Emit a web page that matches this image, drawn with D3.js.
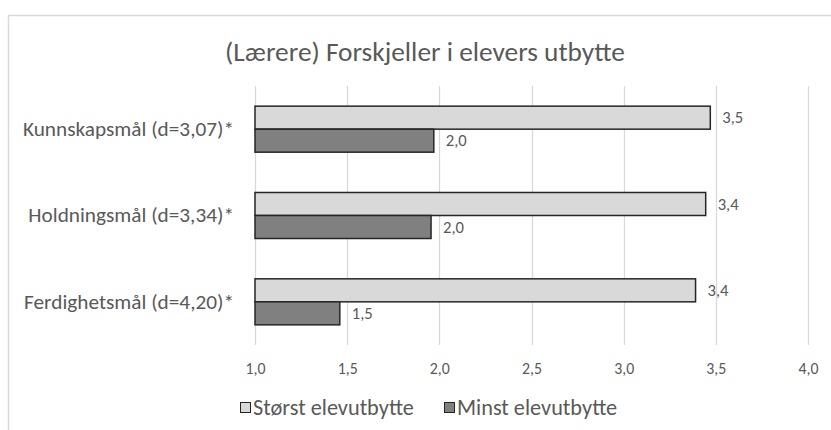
<!DOCTYPE html>
<html><head><meta charset="utf-8">
<script src="https://cdn.jsdelivr.net/npm/d3@7"></script>
<style>
body{margin:0;background:#fff;}
svg text{font-family:Carlito,"Open Sans",sans-serif;fill:#595959;}
</style></head>
<body><svg id="c" width="831" height="430"></svg>
<script>
const title = "(Lærere) Forskjeller i elevers utbytte";
const categories = ["Kunnskapsmål (d=3,07)*", "Holdningsmål (d=3,34)*", "Ferdighetsmål (d=4,20)*"];
const seriesNames = ["Størst elevutbytte", "Minst elevutbytte"];
const storst = [3.47, 3.445, 3.39];
const minst = [1.97, 1.955, 1.46];
const ticks = [1.0, 1.5, 2.0, 2.5, 3.0, 3.5, 4.0];
const colors = ["#d9d9d9", "#808080"];

const svg = d3.select("#c");
svg.append("rect").attr("x",8.5).attr("y",15.5).attr("width",840).attr("height",440)
  .attr("fill","#fff").attr("stroke","#d9d9d9").attr("stroke-width",1.5);

// font-size fitting helper: scale a selection so that a reference text matches a width
function fit(sel, refNode, target) {
  const base = 20;
  sel.style("font-size", base + "px");
  const w = refNode.getComputedTextLength();
  sel.style("font-size", (base * target / w).toFixed(2) + "px");
}

const x = d3.scaleLinear().domain([1,4]).range([255,808]);
const y = d3.scaleBand().domain(categories).range([86,345]);
const inner = d3.scaleBand().domain([0,1]).range([0, y.bandwidth()]).paddingOuter(0.876);
const fmt = v => d3.format(".1f")(v).replace(".", ",");

const t = svg.append("text").attr("x",425).attr("y",51).attr("dy","0.35em").attr("text-anchor","middle").text(title);
fit(t, t.node(), 400);

svg.append("g").selectAll("line").data(ticks).join("line")
  .attr("x1",d=>Math.round(x(d))+0.5).attr("x2",d=>Math.round(x(d))+0.5)
  .attr("y1",86).attr("y2",345).attr("stroke","#d9d9d9").attr("stroke-width",1.3);

const xAxis = d3.axisBottom(x).tickValues(ticks).tickFormat(fmt).tickSize(0).tickPadding(0);
const ga = svg.append("g").attr("transform","translate(0,368)").call(xAxis);
ga.select(".domain").remove();
const tt = ga.selectAll("text").attr("fill","#595959").attr("dy","0.35em").attr("font-family",null).attr("font-size",null);
fit(tt, tt.nodes()[2], 20);

const yAxis = d3.axisLeft(y).tickSize(0).tickPadding(0);
const gy = svg.append("g").attr("transform","translate(234,0)").call(yAxis);
gy.select(".domain").remove();
const yt = gy.selectAll("text").attr("fill","#595959").attr("font-family",null).attr("font-size",null);
fit(yt, yt.nodes()[0], 211);

const groups = [storst, minst];
groups.forEach((vals, si) => {
  const g = svg.append("g");
  g.selectAll("rect").data(vals).join("rect")
    .attr("x", x(1)).attr("y", (d,i)=> y(categories[i]) + inner(si))
    .attr("width", d => x(d)-x(1)).attr("height", inner.bandwidth())
    .attr("fill", colors[si]).attr("stroke","#262626").attr("stroke-width",1.5);
  g.selectAll("text").data(vals).join("text")
    .attr("class","vlab")
    .attr("x", d => x(d)+12).attr("y", (d,i)=> y(categories[i]) + inner(si) + inner.bandwidth()/2)
    .attr("dy","0.35em").text(d=>fmt(d));
});
const vl = svg.selectAll("text.vlab");
fit(vl, vl.nodes()[0], 21);

const leg = svg.append("g");
const legX = [240, 444];
const lt = [];
seriesNames.forEach((n,i)=>{
  leg.append("rect").attr("x",legX[i]+0.5).attr("y",402.5).attr("width",10).attr("height",10)
    .attr("fill",colors[i]).attr("stroke","#262626");
  lt.push(leg.append("text").attr("x",legX[i]+13).attr("y",407).attr("dy","0.35em").attr("class","ltx").text(n).node());
});
fit(leg.selectAll("text.ltx"), lt[0], 161);
</script></body></html>
